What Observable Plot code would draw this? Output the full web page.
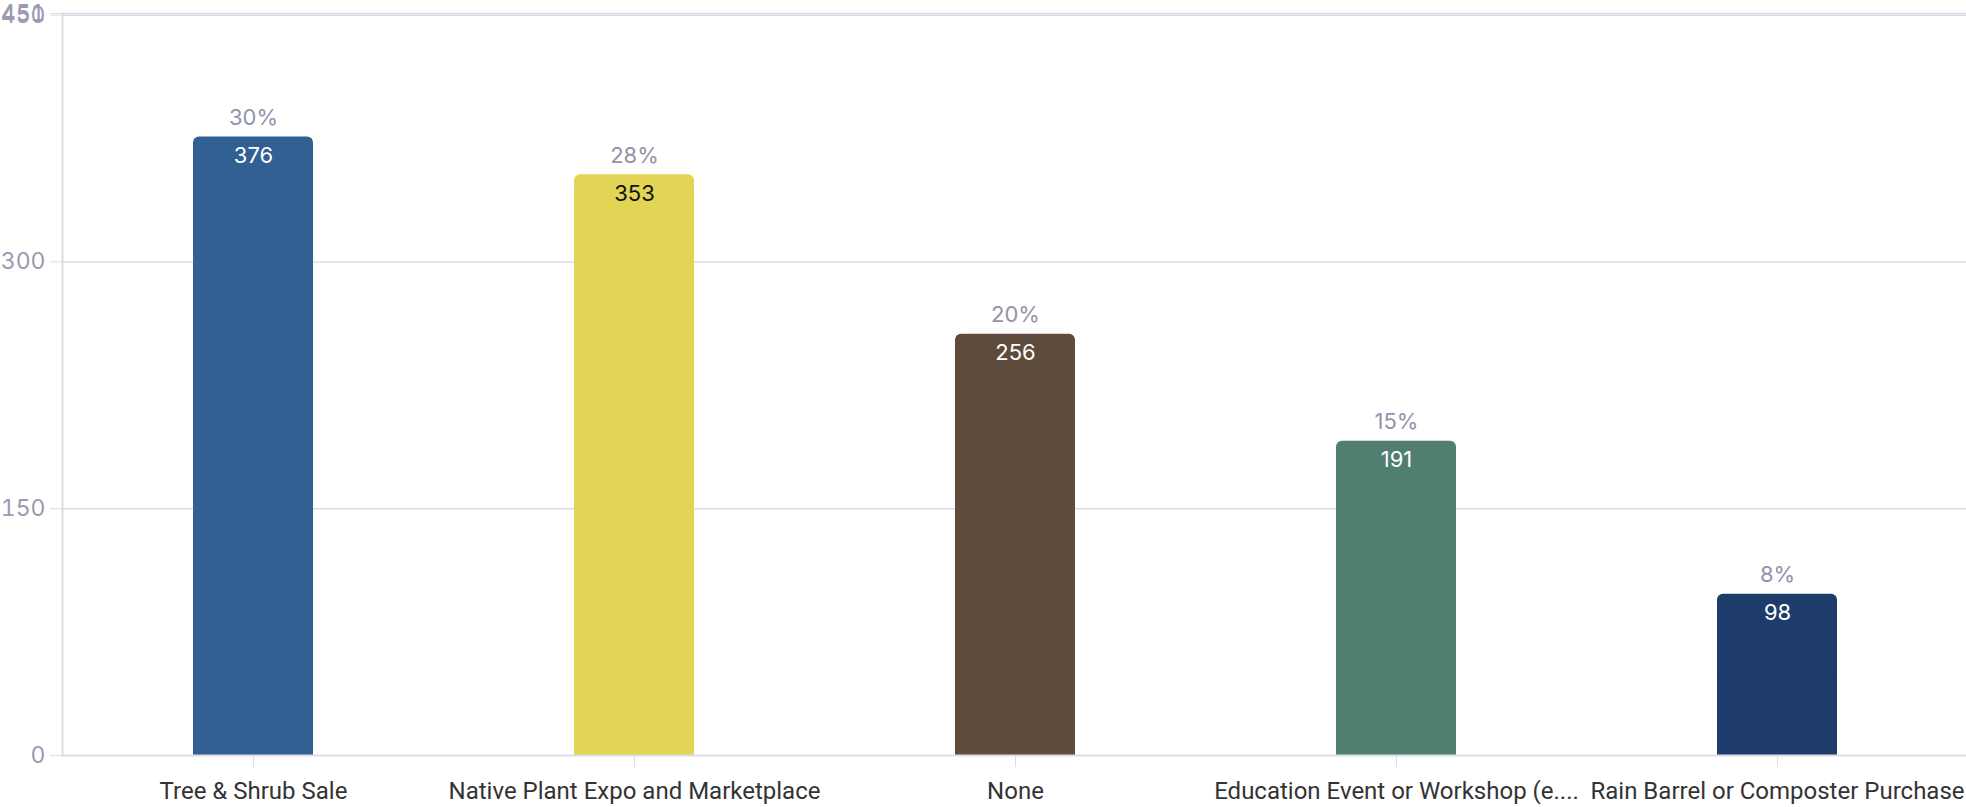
<!DOCTYPE html>
<html>
<head>
<meta charset="utf-8">
<script src="https://cdn.jsdelivr.net/npm/d3@7"></script>
<script src="https://cdn.jsdelivr.net/npm/@observablehq/plot@0.6"></script>
<style>
  html, body { margin: 0; padding: 0; background: #fff; }
  #chart svg { display: block; }
</style>
</head>
<body>
<div id="chart"></div>
<script>
const categories = [
  "Tree & Shrub Sale",
  "Native Plant Expo and Marketplace",
  "None",
  "Education Event or Workshop (e....",
  "Rain Barrel or Composter Purchase"
];
const values = [376, 353, 256, 191, 98];
const colors = ["#336092", "#e2d454", "#5f4b3c", "#507e70", "#1d3c6b"];
const labelColors = ["#ffffff", "#111111", "#ffffff", "#ffffff", "#ffffff"];
const yTicks = [0, 150, 300, 450, 451];

const total = d3.sum(values);
const data = categories.map((c, i) => ({
  category: c,
  value: values[i],
  color: colors[i],
  labelColor: labelColors[i],
  pct: Math.round(values[i] / total * 100) + "%"
}));

const chart = Plot.plot({
  width: 1966,
  height: 807,
  marginLeft: 62,
  marginRight: 0,
  marginTop: 13,
  marginBottom: 52,
  style: { fontFamily: "Inter, sans-serif", background: "#fff" },
  x: { domain: categories, range: [62, 1968], paddingInner: 0.685, paddingOuter: 0.3425, label: null },
  y: { domain: [0, 451], label: null },
  marks: [
    Plot.gridY([150, 300, 450, 451], { stroke: "#dcdce8", strokeOpacity: 1, strokeWidth: 1.5 }),
    Plot.barY(data, { x: "category", y: "value", fill: "color", rx: 6 }),
    Plot.barY(data, { x: "category", y1: 0, y2: d => d.value / 2, fill: "color" }),
    Plot.ruleY([0], { stroke: "#dcdce8", strokeWidth: 2 }),
    Plot.frame({ anchor: "left", stroke: "#dcdce8", strokeWidth: 2 }),
    Plot.axisY({ ticks: yTicks, tickSize: 12, tickPadding: 5, stroke: "#dcdce8", fill: "#9a9ab0", fontSize: 23, label: null, tickFormat: d => String(d) }),
    Plot.axisX({ tickSize: 12, tickPadding: 14, stroke: "#dcdce8", fill: "#333333", fontSize: 24, fontFamily: "Roboto, sans-serif", label: null }),
    Plot.text(data, { x: "category", y: "value", text: "pct", dy: -19, fill: "#9393ab", fontSize: 22 }),
    Plot.text(data, { x: "category", y: "value", text: d => String(d.value), dy: 19, fill: "labelColor", fontSize: 22 })
  ]
});
document.getElementById("chart").appendChild(chart);
</script>
</body>
</html>
